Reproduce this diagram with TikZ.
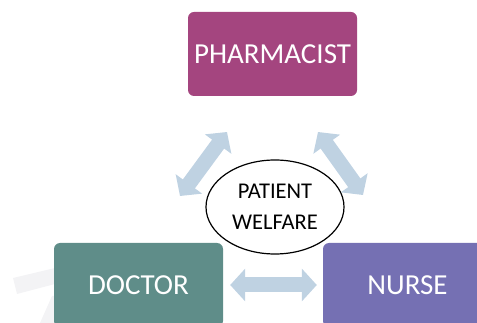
\documentclass[tikz,border=0pt]{standalone}
\usepackage{fontspec}
\setmainfont{Carlito}
\usepackage{tikz}
\usetikzlibrary{arrows.meta,shapes.geometric}

\definecolor{pharmcolor}{HTML}{A4457F}
\definecolor{doccolor}{HTML}{5F8D89}
\definecolor{nursecolor}{HTML}{7570B3}
\definecolor{flowcolor}{HTML}{BFD2E2}
\definecolor{markgray}{HTML}{F3F3F5}

\begin{document}
\begin{tikzpicture}[x=1pt,y=-1pt,
    role/.style={rectangle, rounded corners=6pt, minimum width=169pt, minimum height=84pt,
        text=white, font=\fontsize{29}{30}\selectfont, inner sep=0pt},
    flow/.style={draw=flowcolor, line width=15pt,
        {Triangle[width=32pt,length=15pt]}-{Triangle[width=32pt,length=15pt]}},
    centre/.style={ellipse, draw=black, line width=1.2pt, fill=white, minimum width=138pt,
        minimum height=94pt, inner sep=0pt, align=center, font=\fontsize{22.5}{31}\selectfont}]

    \useasboundingbox (0,0) rectangle (477,323);

    %faint mark behind the doctor
    \fill[markgray] (13,278) -- (55,268) -- (55,284) -- (17,294) -- cycle;
    \fill[markgray] (52,296) -- (55,296) -- (55,323) -- (40,323) -- cycle;

    %roles
    \node[role, fill=pharmcolor] (pharmacist) at (272.5,54) {PHARMACIST};
    \node[role, fill=doccolor] (doctor) at (138.5,285) {DOCTOR};
    \node[role, fill=nursecolor] (nurse) at (407.5,285) {NURSE};

    %middle
    \node[centre] (welfare) at (275,207) {PATIENT\\WELFARE};

    %arrow ends
    \coordinate (docup) at (180,196);
    \coordinate (pharmleft) at (227,132);
    \coordinate (pharmright) at (318,132);
    \coordinate (nurseup) at (363,195);

    %arrows
    \draw[flow] (docup) -- (pharmleft);
    \draw[flow] (pharmright) -- (nurseup);
    \draw[flow, shorten <=7pt, shorten >=6pt] (doctor) -- (nurse);

\end{tikzpicture}
\end{document}
